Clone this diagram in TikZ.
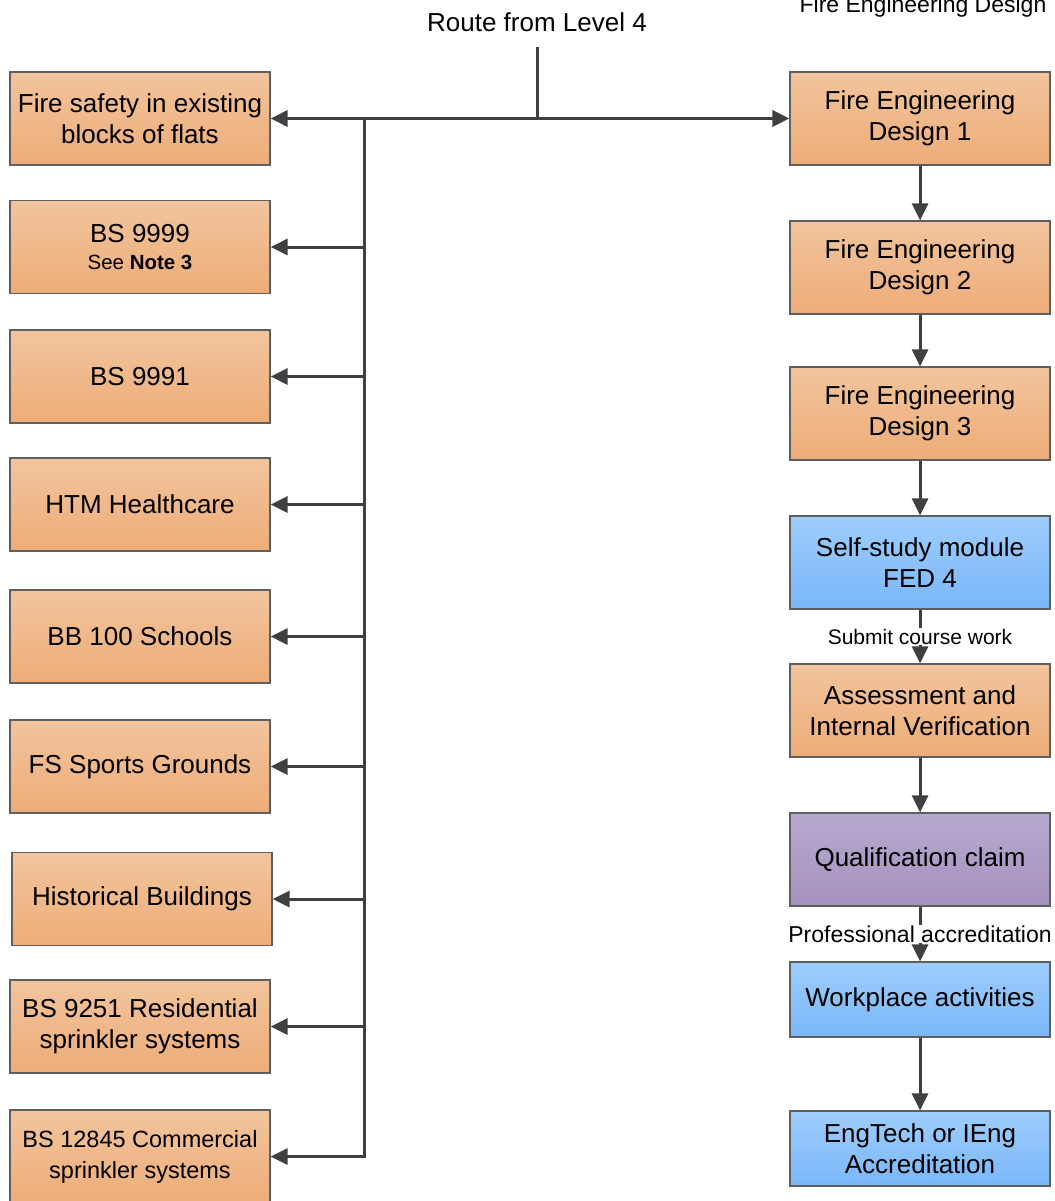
\documentclass[tikz,border=0pt]{standalone}
\usepackage{fontspec}
\setmainfont{Liberation Sans}
\usetikzlibrary{arrows.meta,calc}
\definecolor{orT}{RGB}{242,196,157}
\definecolor{orB}{RGB}{237,173,120}
\definecolor{blT}{RGB}{158,205,253}
\definecolor{blB}{RGB}{122,183,248}
\definecolor{puT}{RGB}{182,169,206}
\definecolor{puB}{RGB}{166,146,192}
\definecolor{bord}{RGB}{95,95,95}
\definecolor{ln}{RGB}{64,64,64}
\tikzset{
  box/.style={draw=bord, line width=1.2pt, minimum width=260pt, minimum height=93pt,
    align=center, font=\fontsize{26}{31}\selectfont, inner sep=2pt},
  orbox/.style={box, top color=orT, bottom color=orB},
  blbox/.style={box, top color=blT, bottom color=blB},
  pubox/.style={box, top color=puT, bottom color=puB},
  conn/.style={draw=ln, line width=3pt},
  arr/.style={conn, -{Triangle[length=17pt,width=16pt]}},
  lbl/.style={fill=white, inner sep=1pt, align=center},
}
\begin{document}
\begin{tikzpicture}[x=1pt,y=-1pt]
\useasboundingbox (0,0) rectangle (1054,1201);
% top labels
\node[font=\fontsize{26}{30}\selectfont] (route) at (537,22) {Route from Level 4};
\node[font=\fontsize{23}{27}\selectfont, anchor=base, inner sep=0pt] (fedtop) at (923,13) {Fire Engineering Design};
% left column
\node[orbox] (b1) at (140,118.5) {Fire safety in existing\\blocks of flats};
\node[orbox] (b2) at (140,247) {BS 9999\\[-4pt]{\fontsize{20.5}{24}\selectfont See \textbf{Note 3}}};
\node[orbox] (b3) at (140,376.5) {BS 9991};
\node[orbox] (b4) at (140,504.5) {HTM Healthcare};
\node[orbox] (b5) at (140,636.5) {BB 100 Schools};
\node[orbox] (b6) at (140,766.5) {FS Sports Grounds};
\node[orbox] (b7) at (142,899) {Historical Buildings};
\node[orbox] (b8) at (140,1026.5) {BS 9251 Residential\\sprinkler systems};
\node[orbox, font=\fontsize{23.5}{31}\selectfont] (b9) at (140,1156.5) {BS 12845 Commercial\\sprinkler systems};
% right column
\node[orbox] (r1) at (920,118.5) {Fire Engineering\\Design 1};
\node[orbox] (r2) at (920,267.5) {Fire Engineering\\Design 2};
\node[orbox] (r3) at (920,413.5) {Fire Engineering\\Design 3};
\node[blbox] (r4) at (920,562.5) {Self-study module\\FED 4};
\node[orbox] (r5) at (920,710.5) {Assessment and\\Internal Verification};
\node[pubox] (r6) at (920,859.5) {Qualification claim};
\node[blbox, minimum height=75pt] (r7) at (920,999.5) {Workplace activities};
\node[blbox, minimum height=75pt] (r8) at (920,1148.5) {EngTech or IEng\\Accreditation};
% bus lines
\coordinate (rtop) at (537,47);
\coordinate (j) at (537,118.5);
\coordinate (bus) at (364,118.5);
\draw[conn] (rtop) -- (j);
\draw[arr] (j) -- (r1.west);
\draw[arr] (j) -- (b1.east);
\draw[arr] (bus) |- (b9.east);
\foreach \b in {b2,b3,b4,b5,b6,b7,b8} {
  \draw[arr] (\b.east -| bus) -- (\b.east);
}
% right flow
\draw[arr] (r1) -- (r2);
\draw[arr] (r2) -- (r3);
\draw[arr] (r3) -- (r4);
\draw[arr] (r4) -- node[lbl, font=\fontsize{21}{24}\selectfont] (l1) {Submit course work} (r5);
\draw[arr] (r5) -- (r6);
\draw[arr] (r6) -- node[lbl, font=\fontsize{23}{26}\selectfont] (l2) {Professional accreditation} (r7);
\draw[arr] (r7) -- (r8);
\end{tikzpicture}
\end{document}
